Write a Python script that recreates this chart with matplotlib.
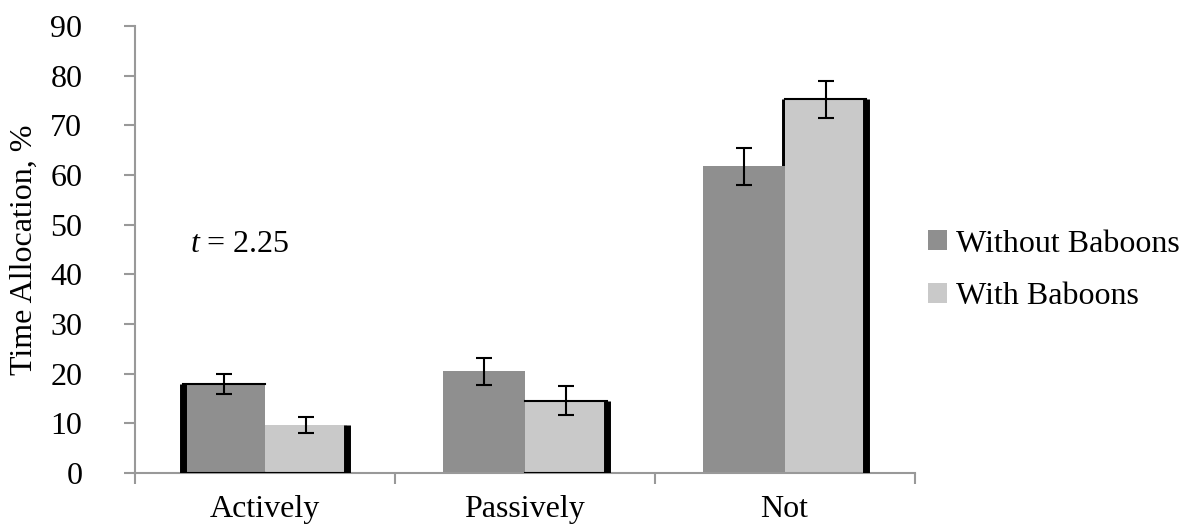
import matplotlib.pyplot as plt
import numpy as np

plt.rcParams['font.family'] = ['Liberation Serif', 'DejaVu Serif']
plt.rcParams['mathtext.fontset'] = 'custom'
plt.rcParams['mathtext.it'] = 'Liberation Serif:italic'
plt.rcParams['mathtext.rm'] = 'Liberation Serif'

categories = ['Actively', 'Passively', 'Not']
without_vals = [18.0, 20.5, 61.7]
without_err = [2.0, 2.7, 3.8]
with_vals = [9.6, 14.6, 75.2]
with_err = [1.6, 2.9, 3.7]
yticks = [0, 10, 20, 30, 40, 50, 60, 70, 80, 90]

fig = plt.figure(figsize=(11.9, 5.28), dpi=100)
ax = fig.add_axes([0.1135, 0.104, 0.655, 0.847])

x = np.arange(len(categories))
w = 0.315
b1 = ax.bar(x - w / 2, without_vals, w, color='#8f8f8f', zorder=2)
b2 = ax.bar(x + w / 2, with_vals, w, color='#c9c9c9', zorder=2)
ax.errorbar(x - w / 2, without_vals, yerr=without_err, fmt='none',
            ecolor='black', elinewidth=1.5, capsize=6, capthick=1.5, zorder=4)
ax.errorbar(x + w / 2, with_vals, yerr=with_err, fmt='none',
            ecolor='black', elinewidth=1.5, capsize=6, capthick=1.5, zorder=4)

# odd black outline artefacts on some bars
def outline(p, sides, lw_side=5, lw_flat=1.5):
    x0, x1, h = p.get_x(), p.get_x() + p.get_width(), p.get_height()
    for s in sides:
        if s == 'left':
            ax.plot([x0, x0], [0, h], color='black', lw=lw_side, zorder=3,
                    solid_capstyle='butt')
        elif s == 'right':
            ax.plot([x1, x1], [0, h], color='black', lw=lw_side, zorder=3,
                    solid_capstyle='butt')
        elif s == 'top':
            ax.plot([x0, x1], [h, h], color='black', lw=lw_flat, zorder=3)
        elif s == 'bottom':
            ax.plot([x0, x1], [0, 0], color='black', lw=lw_flat, zorder=3)

outline(b1[0], ['left', 'top', 'bottom'])
outline(b2[0], ['right', 'bottom'])
outline(b2[1], ['right', 'top', 'bottom'])
p = b2[2]
ax.plot([p.get_x(), p.get_x()], [without_vals[2], p.get_height()],
        color='black', lw=5, zorder=1, solid_capstyle='butt')
outline(p, ['right', 'top'])

ax.set_xlim(-0.5, len(categories) - 0.5)
ax.set_ylim(0, 90)
ax.set_yticks(yticks)
ax.set_yticklabels([str(v) for v in yticks], fontsize=23)
ax.set_xticks(x)
ax.set_xticklabels(categories, fontsize=23)
ax.set_xticks(np.arange(len(categories) + 1) - 0.5, minor=True)
ax.tick_params(axis='x', which='major', length=0, pad=16)
ax.tick_params(axis='x', which='minor', length=8, color='#999999', width=1.5)
ax.tick_params(axis='y', length=8, color='#999999', width=1.5, pad=30)
ax.set_ylabel('Time Allocation, %', fontsize=23, labelpad=8)

for s in ['top', 'right']:
    ax.spines[s].set_visible(False)
for s in ['left', 'bottom']:
    ax.spines[s].set_color('#999999')
    ax.spines[s].set_linewidth(1.5)

ax.text(-0.29, 46, r'$t$ = 2.25', fontsize=23, va='center')

ax.legend([b1, b2], ['Without Baboons', 'With Baboons'], loc='center left',
          bbox_to_anchor=(0.98, 0.453), frameon=False, fontsize=23,
          handlelength=0.6, handleheight=0.6, handletextpad=0.3, labelspacing=0.75)

fig.savefig('out.png', dpi=100)
